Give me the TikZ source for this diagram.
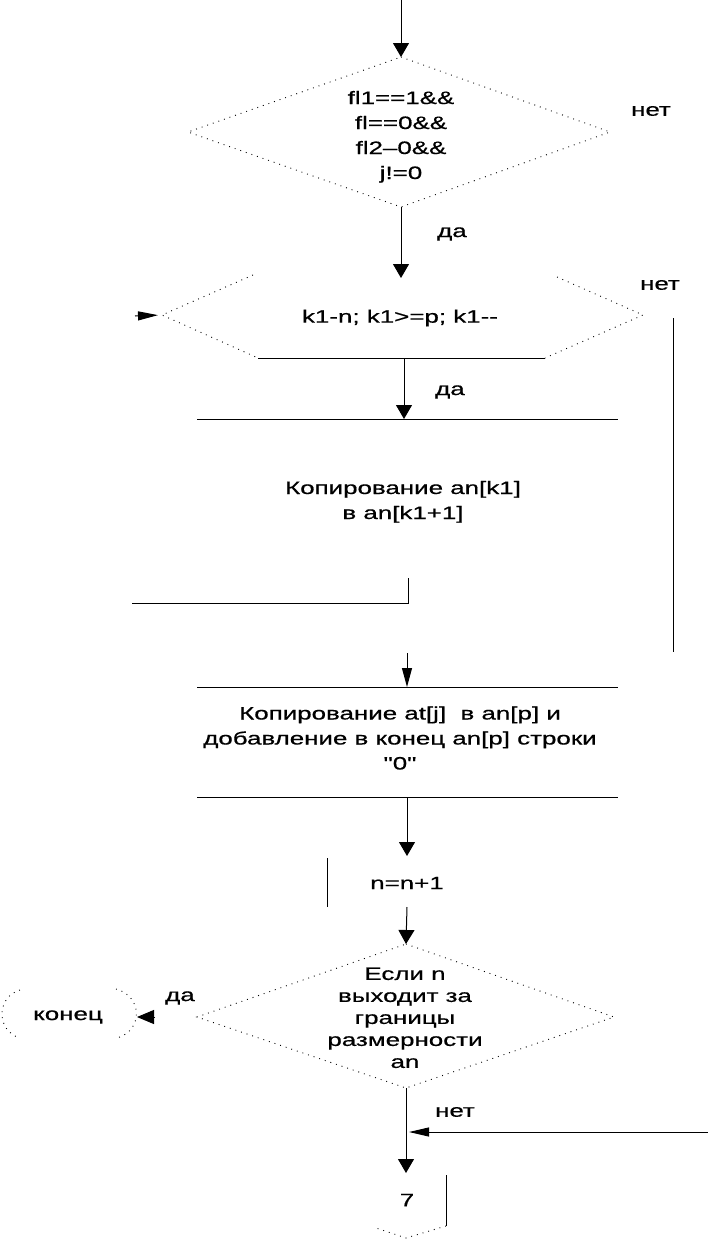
\documentclass[tikz,border=0pt]{standalone}
\usepackage{fontspec}
\setmainfont{Liberation Sans}[Ligatures=TeXOff,FakeBold=0.5]
\usepackage{graphicx}
\usetikzlibrary{arrows.meta}
\newcommand\sx[1]{\scalebox{1.44}[1]{#1}}
\begin{document}
\begin{tikzpicture}[x=1pt,y=-1pt,line width=1pt,
  txt/.style={font=\fontsize{18}{25}\selectfont,inner sep=0pt},
  etxt/.style={font=\fontsize{18}{22}\selectfont,inner sep=0pt},
  dotln/.style={line width=0.9pt,dash pattern=on 0.9pt off 5pt},
  arr/.style={-{Triangle[length=14pt,width=16pt]}},
  narr/.style={-{Triangle[length=19pt,width=10pt]}},
  darr/.style={-{Triangle[length=20pt,width=9pt]}}]
\useasboundingbox[fill=white] (0,0) rectangle (708,1240);

% --- decision A
\coordinate (start) at (401,0);
\coordinate (At) at (401,57);
\coordinate (Al) at (188,132);
\coordinate (Ab) at (401,207);
\coordinate (Ar) at (610,132);
\draw[dotln] (At) -- (Ar) -- (Ab) -- (Al) -- cycle;
\node[txt] (tA) at (401,136.5) {\sx{\begin{tabular}{@{}c@{}}fl1==1\&\&\\fl==0\&\&\\fl2–0\&\&\\j!=0\end{tabular}}};
\draw[arr] (start) -- (At);
\node[txt] (netA) at (651,111) {\sx{нет}};

% --- loop limit B
\coordinate (Bt) at (401,278);
\coordinate (Bl) at (162,315);
\coordinate (Btl) at (253,275);
\coordinate (Btr) at (557,277);
\coordinate (Br) at (643,315);
\coordinate (Bbr) at (545,358);
\coordinate (Bbl) at (258,358);
\coordinate (Bb) at (404,358);
\draw[dotln] (Btl) -- (Bl) -- (Bbl);
\draw[dotln] (Btr) -- (Br) -- (Bbr);
\draw (Bbl) -- (Bbr);
\node[txt] (tB) at (400,318) {\sx{k1-n; k1>=p; k1--}};
\draw[arr] (Ab) -- (Bt);
\node[txt] (daA) at (452,234) {\sx{да}};
\node[txt] (netB) at (660,285) {\sx{нет}};
\coordinate (Bin) at (135,316);
\draw[darr,shorten >=4pt] (Bin) -- (Bl);
\coordinate (R1) at (673,318);
\coordinate (R2) at (673,652);
\draw (R1) -- (R2);

% --- process C
\coordinate (Ct) at (404,419);
\coordinate (Ctl) at (197,419);
\coordinate (Ctr) at (618,419);
\draw (Ctl) -- (Ctr);
\draw[arr] (Bb) -- (Ct);
\node[txt] (daB) at (450,392) {\sx{да}};
\node[txt] (tC) at (403,501.5) {\sx{\begin{tabular}{@{}c@{}}Копирование an[k1]\\в an[k1+1]\end{tabular}}};
\coordinate (Cb) at (408,578);
\coordinate (Cc) at (408,603);
\coordinate (Cend) at (132,603);
\draw (Cb) -- (Cc) -- (Cend);

% --- process D
\coordinate (Din) at (407,653);
\coordinate (Dt) at (407,687);
\coordinate (Dtl) at (197,687);
\coordinate (Dtr) at (618,687);
\coordinate (Dbl) at (197,797);
\coordinate (Dbr) at (618,797);
\coordinate (Db) at (407,797);
\draw (Dtl) -- (Dtr);
\draw (Dbl) -- (Dbr);
\draw[narr] (Din) -- (Dt);
\node[txt] (tD) at (400,739.5) {\sx{\begin{tabular}{@{}c@{}}Копирование at[j]\ \ в an[p] и\\добавление в конец an[p] строки\\"0"\end{tabular}}};

% --- n=n+1
\coordinate (Nt) at (407,856);
\coordinate (Nb) at (407,907);
\coordinate (Ns1) at (327,858);
\coordinate (Ns2) at (327,907);
\draw[arr] (Db) -- (Nt);
\draw (Ns1) -- (Ns2);
\node[txt] (tN) at (407,883) {\sx{n=n+1}};

% --- decision E
\coordinate (Et) at (406,944);
\coordinate (El) at (197,1017);
\coordinate (Eb) at (406,1088);
\coordinate (Er) at (614,1017);
\draw[dotln] (Et) -- (Er) -- (Eb) -- (El) -- cycle;
\draw[arr] (Nb) -- (Et);
\node[etxt] (tE) at (405,1019.5) {\sx{\begin{tabular}{@{}c@{}}Если n\\выходит за\\границы\\размерности\\an\end{tabular}}};
\node[txt] (daE) at (180,998) {\sx{да}};

% --- terminal
\node[txt] (konec) at (68,1017) {\sx{конец}};
\draw[dotln] (20,990) .. controls (-4,997) and (-4,1031) .. (20,1038);
\draw[dotln] (116,989) .. controls (143,996) and (143,1031) .. (117,1038);
\coordinate (Kin) at (155,1017);
\coordinate (Ktip) at (137,1017);
\draw[-{Triangle[length=17pt,width=14pt]}] (Kin) -- (Ktip);

% --- bottom
\coordinate (Sv) at (406,1173);
\draw[arr] (Eb) -- (Sv);
\node[txt] (netE) at (455,1112) {\sx{нет}};
\coordinate (Hin) at (708,1132);
\coordinate (Hm) at (409,1132);
\draw[darr] (Hin) -- (Hm);

% --- off-page connector 7
\coordinate (Gr1) at (446,1175);
\coordinate (Gr2) at (446,1226);
\coordinate (Gb) at (406,1238);
\coordinate (Gl) at (373,1227);
\draw (Gr1) -- (Gr2);
\draw[dotln] (Gr2) -- (Gb) -- (Gl);
\node[txt] (t7) at (407,1200) {\sx{7}};
\end{tikzpicture}
\end{document}
